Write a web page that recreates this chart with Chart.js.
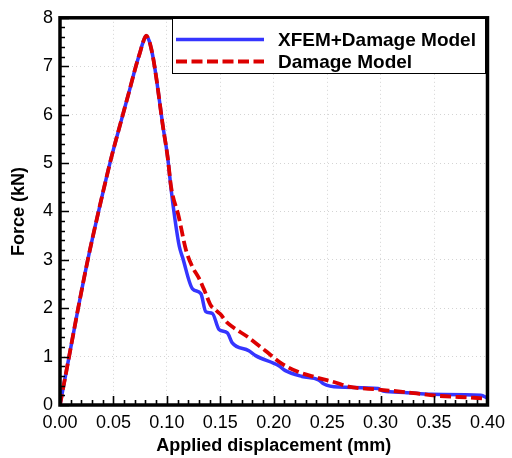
<!DOCTYPE html>
<html>
<head>
<meta charset="utf-8">
<script src="https://cdn.jsdelivr.net/npm/chart.js@4/dist/chart.umd.min.js"></script>
<style>
  html, body { margin: 0; padding: 0; background: #fff; }
  #wrap { width: 512px; height: 458px; }
</style>
</head>
<body>
<div id="wrap"><canvas id="forceChart" width="512" height="458"></canvas></div>
<script>
// ----- Data (displacement in mm, force in kN) -----
const xfemDisp  = [0, 0.0085, 0.017, 0.026, 0.034, 0.041, 0.048, 0.057, 0.065, 0.071, 0.0744, 0.0775, 0.0806,
                   0.0835, 0.0855, 0.0874, 0.0905, 0.0961, 0.1008, 0.1040, 0.1075, 0.1116, 0.1147, 0.1240, 0.1318,
                   0.1364, 0.1426, 0.1488, 0.1566, 0.1610, 0.1767, 0.1830, 0.2047, 0.2109, 0.2264, 0.2419, 0.2465,
                   0.2605, 0.2977, 0.3023, 0.3225, 0.3473, 0.3938, 0.4000];
const xfemForce = [0, 1.00, 2.00, 3.00, 3.80, 4.47, 5.11, 5.85, 6.50, 7.00, 7.25, 7.48, 7.63,
                   7.52, 7.35, 7.14, 6.70, 5.79, 5.11, 4.45, 3.85, 3.28, 3.05, 2.40, 2.30,
                   1.93, 1.89, 1.56, 1.49, 1.29, 1.12, 1.02, 0.81, 0.71, 0.59, 0.52, 0.44,
                   0.37, 0.34, 0.29, 0.26, 0.22, 0.20, 0.14];

const dmgDisp  = [0, 0.0085, 0.017, 0.026, 0.034, 0.041, 0.048, 0.057, 0.065, 0.071, 0.0744, 0.0775, 0.0806,
                  0.0835, 0.0855, 0.0874, 0.0905, 0.0961, 0.1008, 0.1040, 0.1110, 0.1178, 0.1240, 0.1300, 0.1345,
                  0.1364, 0.1410, 0.1457, 0.1500, 0.1556, 0.1610, 0.1767, 0.1922, 0.2078, 0.2233, 0.2388, 0.2570,
                  0.2700, 0.2977, 0.3256, 0.3535, 0.3876, 0.4000];
const dmgForce = [0, 1.00, 2.00, 3.00, 3.80, 4.47, 5.11, 5.85, 6.50, 7.00, 7.25, 7.48, 7.63,
                  7.52, 7.35, 7.14, 6.70, 5.79, 5.11, 4.50, 3.90, 3.21, 2.85, 2.62, 2.40,
                  2.30, 2.06, 1.96, 1.88, 1.72, 1.62, 1.39, 1.12, 0.85, 0.68, 0.575, 0.47,
                  0.38, 0.32, 0.26, 0.19, 0.15, 0.13];

const seriesNames = ['XFEM+Damage Model', 'Damage Model'];
const xTicks = [0, 0.05, 0.10, 0.15, 0.20, 0.25, 0.30, 0.35, 0.40];
const yTicks = [0, 1, 2, 3, 4, 5, 6, 7, 8];

const FONT = "'Liberation Sans', Arial, sans-serif";
const toPoints = (xs, ys) => xs.map((x, i) => ({ x: x, y: ys[i] }));

// ----- Frame, inward ticks and legend box -----
const framePlugin = {
    id: 'frame',
    afterDatasetsDraw(chart) {
        const { ctx, chartArea: a, scales } = chart;
        const xs = scales.x, ys = scales.y;
        ctx.save();
        ctx.strokeStyle = '#000';
        ctx.lineWidth = 1.6;
        ctx.beginPath();
        // bottom axis: major every 0.05, minor every 0.01
        for (let i = 0; i <= 40; i++) {
            const px = Math.round(xs.getPixelForValue(i / 100)) + 0.5;
            const len = i % 5 === 0 ? 9 : 5;
            ctx.moveTo(px, a.bottom);
            ctx.lineTo(px, a.bottom - len);
        }
        // left axis: major every 1, minor every 0.2
        for (let i = 0; i <= 40; i++) {
            const py = Math.round(ys.getPixelForValue(i / 5)) + 0.5;
            const len = i % 5 === 0 ? 9 : 5;
            ctx.moveTo(a.left, py);
            ctx.lineTo(a.left + len, py);
        }
        ctx.stroke();

        ctx.lineWidth = 3.5;
        ctx.strokeRect(a.left, a.top, a.right - a.left, a.bottom - a.top);

        // legend inside the plot
        const box = { x: 172.5, y: 18.5, w: 313, h: 55 };
        ctx.fillStyle = '#fff';
        ctx.fillRect(box.x, box.y, box.w, box.h);
        ctx.lineWidth = 1;
        ctx.strokeStyle = '#000';
        ctx.strokeRect(box.x, box.y, box.w, box.h);
        const rows = [39.5, 61.5];
        chart.data.datasets.forEach((ds, i) => {
            ctx.beginPath();
            ctx.strokeStyle = ds.borderColor;
            ctx.lineWidth = ds.borderWidth;
            ctx.setLineDash(ds.borderDash || []);
            ctx.moveTo(176, rows[i]);
            ctx.lineTo(264, rows[i]);
            ctx.stroke();
            ctx.setLineDash([]);
            ctx.fillStyle = '#000';
            ctx.font = 'bold 19px ' + FONT;
            ctx.textBaseline = 'middle';
            ctx.textAlign = 'left';
            ctx.fillText(ds.label, 278, rows[i] + 1);
        });
        ctx.restore();
    }
};

const ctx = document.getElementById('forceChart').getContext('2d');
const forceChart = new Chart(ctx, {
    type: 'line',
    data: {
        datasets: [
            {
                label: seriesNames[0],
                data: toPoints(xfemDisp, xfemForce),
                borderColor: '#3535ff',
                borderWidth: 3.5,
                pointRadius: 0,
                cubicInterpolationMode: 'monotone',
                order: 1
            },
            {
                label: seriesNames[1],
                data: toPoints(dmgDisp, dmgForce),
                borderColor: '#dd0000',
                borderWidth: 3.8,
                borderDash: [11, 4.5],
                pointRadius: 0,
                cubicInterpolationMode: 'monotone',
                order: 0
            }
        ]
    },
    options: {
        responsive: false,
        animation: false,
        layout: { padding: { top: 11, right: 20, left: 0, bottom: 0 } },
        plugins: {
            legend: { display: false },
            tooltip: { enabled: false }
        },
        scales: {
            x: {
                type: 'linear',
                min: 0, max: 0.4,
                afterFit: s => { s.height = 53; },
                afterBuildTicks: s => { s.ticks = xTicks.map(v => ({ value: v })); },
                ticks: {
                    callback: v => v.toFixed(2),
                    font: { family: FONT, size: 18 },
                    color: '#000',
                    padding: 7,
                    maxRotation: 0,
                    autoSkip: false
                },
                grid: { color: '#d4d4d4', lineWidth: 1, drawTicks: false },
                border: { display: false, dash: [1, 3] },
                title: {
                    display: true,
                    text: 'Applied displacement (mm)',
                    font: { family: FONT, size: 18, weight: 'bold' },
                    color: '#000',
                    padding: { top: 0, bottom: 1 }
                }
            },
            y: {
                type: 'linear',
                min: 0, max: 8,
                afterFit: s => { s.width = 60; },
                afterBuildTicks: s => { s.ticks = yTicks.map(v => ({ value: v })); },
                ticks: {
                    font: { family: FONT, size: 18 },
                    color: '#000',
                    padding: 7,
                    autoSkip: false
                },
                grid: { color: '#d4d4d4', lineWidth: 1, drawTicks: false },
                border: { display: false, dash: [1, 3] },
                title: {
                    display: true,
                    text: 'Force (kN)',
                    font: { family: FONT, size: 18, weight: 'bold' },
                    color: '#000',
                    padding: { top: 8, bottom: 0 }
                }
            }
        }
    },
    plugins: [framePlugin]
});
</script>
</body>
</html>
